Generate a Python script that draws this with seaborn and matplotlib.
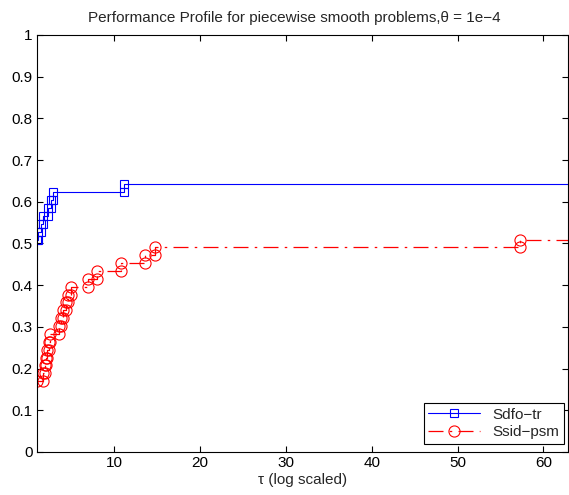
import matplotlib
matplotlib.use("Agg")
import matplotlib.pyplot as plt
import seaborn as sns
import pandas as pd
import numpy as np

# Performance profile data
n_problems = 53
x_max = 62.8

# Sdfo-tr: problems solved at tau=1, then sorted ratios of the rest
sdfo_best = 27
sdfo_ratios = [1.1, 1.5, 1.75, 2.3, 2.6, 2.9, 11.1]

# Ssid-psm
ssid_best = 9
ssid_ratios = [1.75, 1.95, 2.05, 2.15, 2.4, 2.5, 3.55, 3.8, 4.05, 4.35,
               4.6, 5.0, 7.0, 8.0, 10.8, 13.6, 14.7, 57.3]

solver_names = ["Sdfo\u2212tr", "Ssid\u2212psm"]
x_ticks = [10, 20, 30, 40, 50, 60]
y_ticks = [0, 0.1, 0.2, 0.3, 0.4, 0.5, 0.6, 0.7, 0.8, 0.9, 1]
y_tick_labels = ["0", "0.1", "0.2", "0.3", "0.4", "0.5", "0.6", "0.7", "0.8", "0.9", "1"]


def stairs(best, ratios, name):
    # vertices of the stair curve, like MATLAB stairs()
    xs = [1.0]
    ys = [best / n_problems]
    count = best
    for r in ratios:
        xs.append(r)
        ys.append(count / n_problems)
        count += 1
        xs.append(r)
        ys.append(count / n_problems)
    xs.append(x_max)
    ys.append(count / n_problems)
    return pd.DataFrame({"tau": xs, "rho": ys, "solver": name})


sdfo = stairs(sdfo_best, sdfo_ratios, solver_names[0])
ssid = stairs(ssid_best, ssid_ratios, solver_names[1])

sns.set_style("ticks")
plt.rcParams["font.family"] = ["Liberation Sans", "DejaVu Sans"]
plt.rcParams["font.size"] = 11

fig = plt.figure(figsize=(5.69, 4.95), dpi=100)
ax = fig.add_axes([0.0649, 0.0869, 0.9325, 0.8424])

sns.lineplot(
    data=sdfo, x="tau", y="rho", sort=False, estimator=None, ax=ax,
    color="#0000ff", linewidth=0.8, marker="s", markersize=6,
    mfc="none", mec="#0000ff", mew=0.8, markevery=list(range(len(sdfo) - 1)),
    label=solver_names[0],
)
sns.lineplot(
    data=ssid, x="tau", y="rho", sort=False, estimator=None, ax=ax,
    color="#ff0000", linewidth=0.9, linestyle=(0, (12, 5, 2, 5)), marker="o",
    markersize=8, mfc="none", mec="#ff0000", mew=0.8,
    markevery=list(range(len(ssid) - 1)), label=solver_names[1],
)
ax.lines[0].set_color("#0000ff")
ax.lines[1].set_color("#ff0000")

ax.set_xlim(1, x_max)
ax.set_ylim(0, 1)
ax.set_xticks(x_ticks)
ax.set_yticks(y_ticks)
ax.set_yticklabels(y_tick_labels)
ax.tick_params(direction="in", top=True, right=True, length=4.5, width=0.8,
               labelsize=11, colors="black", pad=3)
for sp in ax.spines.values():
    sp.set_visible(True)
    sp.set_linewidth(0.8)
    sp.set_color("black")

ax.set_xlabel("\u03c4 (log scaled)", fontsize=11, labelpad=2)
ax.set_ylabel("")
ax.set_title("Performance Profile for piecewise smooth problems,\u03b8 = 1e\u22124",
             fontsize=11, x=0.4846, pad=9)

leg = ax.legend(loc="lower right", bbox_to_anchor=(0.993, 0.019), fontsize=11,
                handlelength=3.4, fancybox=False, framealpha=1, borderpad=0.3,
                labelspacing=0.25, borderaxespad=0)
leg.get_frame().set_edgecolor("black")
leg.get_frame().set_linewidth(0.8)

fig.savefig("out.png", dpi=100)
